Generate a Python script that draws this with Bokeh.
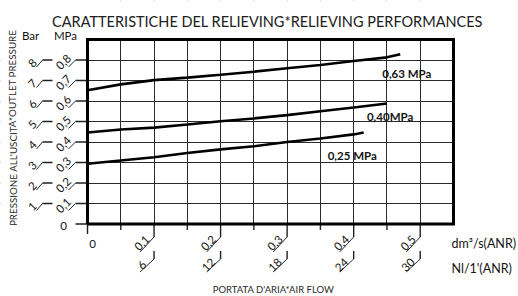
from bokeh.plotting import figure
from bokeh.models import Range1d, Grid, FixedTicker
from bokeh.core.properties import value
from bokeh.embed import file_html
from bokeh.resources import INLINE

# ---------------- data ----------------
title = "CARATTERISTICHE DEL RELIEVING*RELIEVING PERFORMANCES"
x_title = "PORTATA D'ARIA*AIR FLOW"
y_title = "PRESSIONE ALL'USCITA*OUTLET PRESSURE"
x_unit_dm3 = "dm³/s(ANR)"
x_unit_nl = "Nl/1'(ANR)"
y_head_bar = "Bar"
y_head_mpa = "MPa"

x_ticks = [0.1, 0.2, 0.3, 0.4, 0.5]
x_labels_dm3 = ["0,1", "0,2", "0,3", "0,4", "0,5"]
x_labels_nl = ["6", "12", "18", "24", "30"]
x_grid = [0.05, 0.10, 0.15, 0.20, 0.25, 0.30, 0.35, 0.40, 0.45, 0.50]

y_ticks = [0.1, 0.2, 0.3, 0.4, 0.5, 0.6, 0.7, 0.8]
y_labels_mpa = ["0,1", "0,2", "0,3", "0,4", "0,5", "0,6", "0,7", "0,8"]
y_labels_bar = ["1", "2", "3", "4", "5", "6", "7", "8"]

x_max = 0.55
y_max = 0.9

flow_063 = [0.00, 0.05, 0.10, 0.15, 0.20, 0.25, 0.30, 0.35, 0.40, 0.45, 0.47]
pres_063 = [0.652, 0.681, 0.702, 0.714, 0.728, 0.743, 0.760, 0.776, 0.795, 0.813, 0.828]
flow_040 = [0.00, 0.05, 0.10, 0.15, 0.20, 0.25, 0.30, 0.35, 0.40, 0.45]
pres_040 = [0.446, 0.461, 0.470, 0.485, 0.501, 0.515, 0.531, 0.550, 0.568, 0.588]
flow_025 = [0.00, 0.05, 0.10, 0.15, 0.20, 0.25, 0.30, 0.35, 0.40, 0.415]
pres_025 = [0.294, 0.310, 0.326, 0.346, 0.364, 0.379, 0.400, 0.417, 0.437, 0.446]
curve_names = ["0,63 MPa", "0,40MPa", "0,25 MPa"]

# ---------------- layout ----------------
W, H = 518, 296
PPX = 665.45   # pixels per data unit (x)
PPY = 205.0    # pixels per data unit (y)
x_start = -87.0 / PPX
y_end = y_max + 39.0 / PPY
XR = (x_start, x_start + W / PPX)
YR = (y_end - H / PPY, y_end)
NAN = float("nan")


def ox(px):
    return px / PPX


def oy(px):  # px downward on screen
    return -px / PPY


FONT = value("Lato")
INK = "#151515"
GRID = "#2a2a2a"

p = figure(width=W, height=H, output_backend="svg", toolbar_location=None,
           x_range=Range1d(*XR), y_range=Range1d(*YR), min_border=0)
p.axis.visible = False
p.grid.visible = False
p.outline_line_color = None
p.background_fill_color = "white"

# library grid lines (vertical every 0.05, horizontal every 0.1)
p.add_layout(Grid(dimension=0, ticker=FixedTicker(ticks=x_grid),
                  grid_line_color=GRID, grid_line_width=1))
p.add_layout(Grid(dimension=1, ticker=FixedTicker(ticks=y_ticks),
                  grid_line_color=GRID, grid_line_width=1))

# white masks keep the grid inside the chart frame only
p.quad(left=[XR[0], x_max, 0.0, 0.0], right=[0.0, XR[1], x_max, x_max],
       bottom=[YR[0], YR[0], y_max, YR[0]], top=[YR[1], YR[1], YR[1], 0.0],
       fill_color="white", line_color=None)


def polyline(pairs, width=1.4, color="#222222"):
    """Draw several straight pieces as one broken line (NaN separators)."""
    xs, ys = [], []
    for (xa, ya, xb, yb) in pairs:
        xs += [xa, xb, NAN]
        ys += [ya, yb, NAN]
    p.line(x=xs, y=ys, line_color=color, line_width=width)


def vlines(xs, y_lo, y_hi):
    polyline([(v, y_lo, v, y_hi) for v in xs])


def hlines(ys, x_lo, x_hi):
    polyline([(x_lo, v, x_hi, v) for v in ys])


def slashes(x_top, y_top, dxp, dyp):
    polyline([(a, b, a + ox(dxp), b + oy(dyp)) for a, b in zip(x_top, y_top)],
             width=1, color=GRID)


nx = len(x_ticks)
ny = len(y_ticks)
minor = [g for g in x_grid if g not in x_ticks]

# tick extensions outside the frame
vlines(minor, oy(6), 0.0)
vlines(x_ticks, oy(13), 0.0)
vlines([0.0], oy(10), 0.0)
vlines(x_ticks, oy(35), oy(27))
hlines([0.0] + y_ticks, ox(-12), 0.0)
hlines(y_ticks, ox(-45), ox(-35))

# x leader slashes, row 1 and row 2
slashes(x_ticks, [oy(13)] * nx, -14, 15)
slashes(x_ticks, [oy(35)] * nx, -14, 13)

p.text(x=[t + ox(-12) for t in x_ticks], y=[oy(19)] * nx, text=x_labels_dm3,
       angle=0.785, text_font=FONT, text_font_size="11.5px", text_color=INK,
       text_align="center", text_baseline="middle")
p.text(x=[t + ox(-12) for t in x_ticks], y=[oy(41)] * nx, text=x_labels_nl,
       angle=0.785, text_font=FONT, text_font_size="11.5px", text_color=INK,
       text_align="center", text_baseline="middle")
p.text(x=[ox(5)], y=[oy(20)], text=["0"], text_font=FONT, text_font_size="11.5px",
       text_color=INK, text_align="center", text_baseline="middle")

# y slashes and labels
slashes([ox(-12)] * ny, y_ticks, -7, 7)
slashes([ox(-45)] * ny, y_ticks, -6, 7)
p.text(x=[ox(-24)] * ny, y=[t + oy(2) for t in y_ticks], text=y_labels_mpa,
       angle=0.785, text_font=FONT, text_font_size="11.5px", text_color=INK,
       text_align="center", text_baseline="middle")
p.text(x=[ox(-55)] * ny, y=[t + oy(3) for t in y_ticks], text=y_labels_bar,
       angle=0.785, text_font=FONT, text_font_size="11.5px", text_color=INK,
       text_align="center", text_baseline="middle")
p.text(x=[ox(-24)], y=[oy(2)], text=["0"], text_font=FONT, text_font_size="11.5px",
       text_color=INK, text_align="center", text_baseline="middle")
p.text(x=[ox(-57), ox(-22)], y=[y_max + oy(-4)] * 2, text=[y_head_bar, y_head_mpa],
       text_font=FONT, text_font_size="11.5px", text_color=INK,
       text_align="center", text_baseline="middle")

# frame
p.line(x=[0.0, x_max, x_max, 0.0, 0.0], y=[0.0, 0.0, y_max, y_max, 0.0],
       line_color="black", line_width=3, line_join="miter")

# curves
for fx, py in ((flow_063, pres_063), (flow_040, pres_040), (flow_025, pres_025)):
    p.line(fx, py, line_color="black", line_width=2.6)

p.text(x=[flow_063[-1] + ox(-18), flow_040[-1] + ox(-20), flow_025[-1] + ox(-36)],
       y=[pres_063[-1] + oy(19), pres_040[-1] + oy(13), pres_025[-1] + oy(23)],
       text=curve_names, text_font=FONT, text_font_size="11.5px",
       text_font_style="bold", text_color=INK, text_align="left", text_baseline="middle")

# unit labels
p.text(x=[x_max + ox(-2)] * 2, y=[oy(19.5), oy(44.5)], text=[x_unit_dm3, x_unit_nl],
       text_font=FONT, text_font_size="12.5px", text_color=INK,
       text_align="left", text_baseline="middle")

# titles
p.text(x=[x_max / 2 - ox(3)], y=[y_max + oy(-18)], text=[title],
       text_font=FONT, text_font_size="14.5px", text_color="#202020",
       text_align="center", text_baseline="middle")
p.text(x=[x_max / 2 + ox(3)], y=[oy(65)], text=[x_title],
       text_font=FONT, text_font_size="9.5px", text_color="#2a2a2a",
       text_align="center", text_baseline="middle")
p.text(x=[ox(-75)], y=[y_max / 2 + oy(-4)], text=[y_title], angle=1.5708,
       text_font=FONT, text_font_size="9.8px", text_color="#2a2a2a",
       text_align="center", text_baseline="middle")

open("out.html", "w").write(file_html(p, INLINE))
